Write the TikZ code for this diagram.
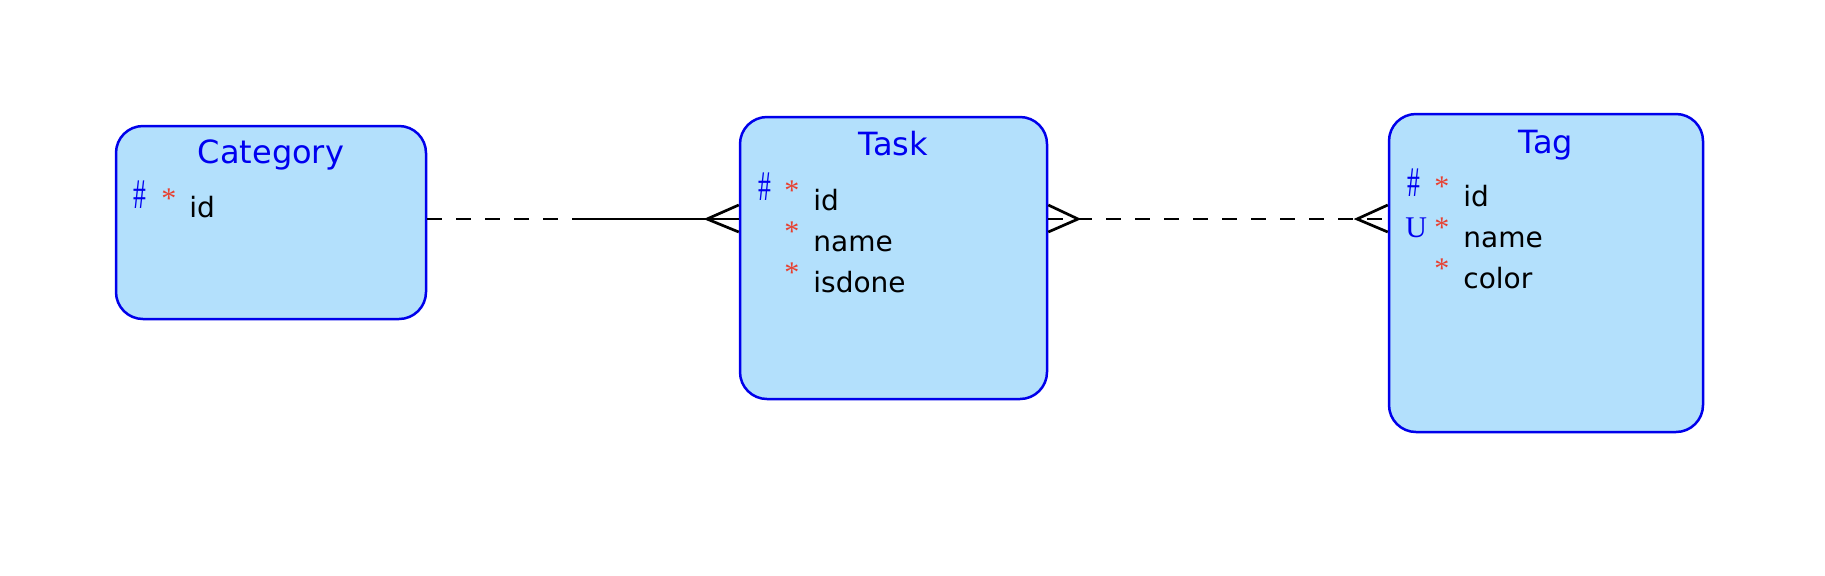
\documentclass[tikz,border=0pt]{standalone}
\usepackage{graphicx}
\usepackage{fontspec}
\setmainfont{DejaVu Sans}
\newfontfamily\mkfont{Liberation Serif}
\definecolor{entfill}{RGB}{179,224,252}
\definecolor{entline}{RGB}{0,0,235}
\definecolor{ttlblue}{RGB}{0,0,240}
\definecolor{reqred}{RGB}{232,64,48}
\newcommand{\pkmark}{\scalebox{0.8}[1.32]{\fontsize{16pt}{19pt}\selectfont\#}}
\begin{document}
\begin{tikzpicture}[x=0.5pt,y=-0.5pt,
  ent/.style={draw=entline, fill=entfill, line width=1.25pt, rounded corners=13.5pt, inner sep=0pt},
  ttl/.style={anchor=base, inner sep=0pt, text=ttlblue, font=\fontsize{16pt}{19pt}\selectfont},
  attr/.style={anchor=base west, inner sep=0pt, text=black, font=\fontsize{14pt}{17pt}\selectfont},
  pk/.style={anchor=base west, inner sep=0pt, text=ttlblue, font=\mkfont\fontsize{15pt}{18pt}\selectfont},
  req/.style={anchor=base west, inner sep=0pt, text=reqred, font=\mkfont\fontsize{15pt}{18pt}\selectfont},
  conn/.style={draw=black, line width=1.35pt},
  dashconn/.style={conn, dash pattern=on 7.5pt off 7pt}
]
\useasboundingbox (0,0) rectangle (1825,575);
\fill[white] (0,0) rectangle (1825,575);

% entities
\node[ent, minimum width=155pt, minimum height=96.5pt] (cat) at (271,222.5) {};
\node[ent, minimum width=153.5pt, minimum height=141pt] (task) at (893.5,258) {};
\node[ent, minimum width=157pt, minimum height=159pt] (tag) at (1546,273) {};

% Category
\node[ttl] (catT) at (271,163) {Category};
\node[pk] (catP1) at (133,208) {\pkmark};
\node[req] (catR1) at (161,208) {*};
\node[attr] (catA1) at (189,217) {id};

% Task
\node[ttl] (taskT) at (893.5,155) {Task};
\node[pk] (taskP1) at (758,200) {\pkmark};
\node[req] (taskR1) at (784,200) {*};
\node[attr] (taskA1) at (813,210) {id};
\node[req] (taskR2) at (784,241) {*};
\node[attr] (taskA2) at (813,251) {name};
\node[req] (taskR3) at (784,282) {*};
\node[attr] (taskA3) at (813,292) {isdone};

% Tag
\node[ttl] (tagT) at (1546,153) {Tag};
\node[pk] (tagP1) at (1407,196) {\pkmark};
\node[req] (tagR1) at (1434,196) {*};
\node[attr] (tagA1) at (1463,206) {id};
\node[pk] (tagP2) at (1405,237) {U};
\node[req] (tagR2) at (1434,237) {*};
\node[attr] (tagA2) at (1463,247) {name};
\node[req] (tagR3) at (1434,278) {*};
\node[attr] (tagA3) at (1463,288) {color};

% connector rows
\coordinate (row) at (0,219);
\coordinate (rowUp) at (0,205);
\coordinate (rowDn) at (0,232);

% Category -- Task
\coordinate (m1) at (582,219);
\coordinate (crowA) at (707,219);
\draw[dashconn] (cat.east |- row) -- (m1);
\draw[conn] (m1) -- (task.west |- row);
\draw[conn] (task.west |- rowUp) -- (crowA) -- (task.west |- rowDn);

% Task -- Tag
\coordinate (crowB) at (1078,219);
\coordinate (crowC) at (1357,219);
\draw[dashconn] (task.east |- row) -- (tag.west |- row);
\draw[conn] (task.east |- rowUp) -- (crowB) -- (task.east |- rowDn);
\draw[conn] (tag.west |- rowUp) -- (crowC) -- (tag.west |- rowDn);
\end{tikzpicture}
\end{document}
